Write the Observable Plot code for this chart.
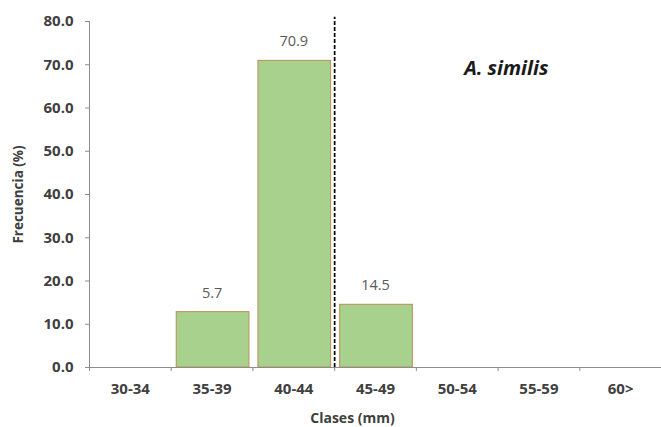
<!DOCTYPE html>
<html>
<head>
<meta charset="utf-8">
<script src="https://cdn.jsdelivr.net/npm/d3@7"></script>
<script src="https://cdn.jsdelivr.net/npm/@observablehq/plot@0.6"></script>
<style>
  html, body { margin: 0; padding: 0; background: #fff; }
  #chart svg { display: block; }
</style>
</head>
<body>
<div id="chart"></div>
<script>
const categories = ["30-34", "35-39", "40-44", "45-49", "50-54", "55-59", "60>"];
const frequencies = [0, 12.8, 70.9, 14.5, 0, 0, 0];
const valueLabels = ["", "5.7", "70.9", "14.5", "", "", ""];
const yTicks = [0, 10, 20, 30, 40, 50, 60, 70, 80];
const dashedBoundary = [3]; // boundary between "40-44" and "45-49"
const speciesTitle = "A. similis";
const yLabel = "Frecuencia (%)";
const xLabel = "Clases (mm)";

const data = categories.map((c, i) => ({i, cat: c, value: frequencies[i], label: valueLabels[i]}));
const bars = data.filter(d => d.value > 0);
const labelled = data.filter(d => d.label !== "");

const FONT = "'Open Sans', Lato, sans-serif";
const axisColor = "#8c8c8c";
const textColor = "#404040";

const chart = Plot.plot({
  width: 661,
  height: 427,
  marginLeft: 89,
  marginRight: 0,
  marginTop: 21,
  marginBottom: 60,
  style: {fontFamily: FONT, background: "#fff"},
  x: {type: "linear", domain: [0, categories.length], axis: null},
  y: {type: "linear", domain: [0, 80], axis: null},
  marks: [
    Plot.rectY(bars, {
      x1: d => d.i, x2: d => d.i + 1, y1: 0, y2: "value",
      insetLeft: 5.5, insetRight: 3.5,
      fill: "#a9d18e", stroke: "#b98e58", strokeWidth: 1
    }),
    Plot.ruleX(dashedBoundary, {y1: 0, y2: 81, stroke: "#000", strokeWidth: 1.7, strokeDasharray: "4,2"}),
    Plot.text(labelled, {
      x: d => d.i + 0.5, y: "value", text: "label", dy: -19,
      fill: "#595959", fontSize: 14.5
    }),
    // y axis
    Plot.ruleX([0], {y1: 0, y2: 80, stroke: axisColor, strokeWidth: 1}),
    Plot.axisY({
      ticks: yTicks, tickFormat: d => d.toFixed(1), tickSize: 4, tickPadding: 12,
      stroke: axisColor, color: textColor, fontSize: 15, fontWeight: "bold", label: null
    }),
    // x axis
    Plot.ruleY([0], {stroke: axisColor, strokeWidth: 1}),
    Plot.axisX({
      ticks: d3.range(categories.length + 1), tickFormat: () => "",
      tickSize: 4, stroke: axisColor, label: null
    }),
    Plot.axisX({
      ticks: categories.map((c, i) => i + 0.5),
      tickFormat: d => categories[Math.floor(d)],
      tickSize: 0, tickPadding: 16,
      color: textColor, fontSize: 15, fontWeight: "bold", label: null
    }),
    // axis titles
    Plot.text([yLabel], {
      frameAnchor: "left", dx: -71, rotate: -90, text: d => d,
      textAnchor: "middle", lineAnchor: "middle",
      fill: textColor, fontSize: 13.5, fontWeight: "bold"
    }),
    Plot.text([xLabel], {
      frameAnchor: "bottom", dx: -23, dy: 51, text: d => d,
      textAnchor: "middle", lineAnchor: "middle",
      fill: textColor, fontSize: 14, fontWeight: "bold"
    }),
    // species title
    Plot.text([speciesTitle], {
      x: 5.1, y: 69.1, text: d => d,
      fill: "#1a1a1a", fontSize: 20, fontWeight: "bold", fontStyle: "italic"
    })
  ]
});

document.getElementById("chart").appendChild(chart);
</script>
</body>
</html>
